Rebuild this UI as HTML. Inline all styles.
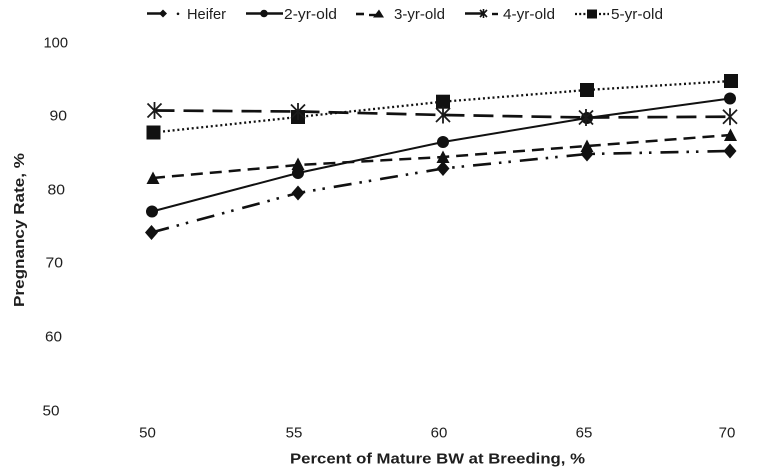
<!DOCTYPE html>
<html>
<head>
<meta charset="utf-8">
<style>
  html,body{margin:0;padding:0;background:#fff;}
  svg{display:block;}
  text{font-family:"Liberation Sans",Arial,sans-serif;fill:#1e1e1e;}
</style>
</head>
<body>
<svg width="764" height="476" viewBox="0 0 764 476" xmlns="http://www.w3.org/2000/svg">
  <rect x="0" y="0" width="764" height="476" fill="#fff"/>

  <!-- Legend -->
  <g>
    <!-- Heifer -->
    <line x1="147" y1="13.5" x2="164" y2="13.5" stroke="#111" stroke-width="2.6"/>
    <polygon points="167,13.5 163,9.5 159,13.5 163,17.5" fill="#111"/>
    <circle cx="178" cy="13.8" r="1.3" fill="#111"/>
    <text x="187" y="19" font-size="15" textLength="39" lengthAdjust="spacingAndGlyphs">Heifer</text>
    <!-- 2-yr -->
    <line x1="246" y1="13.5" x2="283" y2="13.5" stroke="#111" stroke-width="2.4"/>
    <circle cx="264" cy="13.5" r="3.8" fill="#111"/>
    <text x="284" y="19" font-size="15" textLength="53" lengthAdjust="spacingAndGlyphs">2-yr-old</text>
    <!-- 3-yr -->
    <line x1="356" y1="14" x2="364" y2="14" stroke="#111" stroke-width="2.6"/>
    <line x1="369" y1="15" x2="380" y2="15" stroke="#111" stroke-width="2.4"/>
    <polygon points="379,9.5 384,17.5 373,17.5" fill="#111"/>
    <text x="394" y="19" font-size="15" textLength="51" lengthAdjust="spacingAndGlyphs">3-yr-old</text>
    <!-- 4-yr -->
    <line x1="465" y1="13.5" x2="484" y2="13.5" stroke="#111" stroke-width="2.6"/>
    <g stroke="#111" stroke-width="1.6">
      <line x1="480" y1="10" x2="487" y2="17"/>
      <line x1="480" y1="17" x2="487" y2="10"/>
      <line x1="483.5" y1="9" x2="483.5" y2="18"/>
    </g>
    <line x1="492" y1="14" x2="498" y2="14" stroke="#111" stroke-width="2.4"/>
    <text x="503" y="19" font-size="15" textLength="52" lengthAdjust="spacingAndGlyphs">4-yr-old</text>
    <!-- 5-yr -->
    <line x1="575" y1="14" x2="587" y2="14" stroke="#111" stroke-width="2.2" stroke-dasharray="2 2.2"/>
    <rect x="587" y="9.5" width="10" height="9" fill="#111"/>
    <line x1="599" y1="14" x2="609" y2="14" stroke="#111" stroke-width="2.2" stroke-dasharray="2 2.2"/>
    <text x="611" y="19" font-size="15" textLength="52" lengthAdjust="spacingAndGlyphs">5-yr-old</text>
  </g>

  <!-- Y tick labels -->
  <g font-size="15" text-anchor="end">
    <text x="68" y="47.5" textLength="24.5" lengthAdjust="spacingAndGlyphs">100</text>
    <text x="67" y="120.5" textLength="17.5" lengthAdjust="spacingAndGlyphs">90</text>
    <text x="65" y="194.5" textLength="17.5" lengthAdjust="spacingAndGlyphs">80</text>
    <text x="63" y="267.5" textLength="17.5" lengthAdjust="spacingAndGlyphs">70</text>
    <text x="62" y="341.5" textLength="17" lengthAdjust="spacingAndGlyphs">60</text>
    <text x="59.5" y="415.5" textLength="17" lengthAdjust="spacingAndGlyphs">50</text>
  </g>

  <!-- X tick labels -->
  <g font-size="15" text-anchor="middle">
    <text x="147.5" y="437.5">50</text>
    <text x="294" y="437.5">55</text>
    <text x="439" y="437.5">60</text>
    <text x="584" y="437.5">65</text>
    <text x="727" y="437.5">70</text>
  </g>

  <!-- Axis titles -->
  <text x="290" y="463.5" font-size="15" font-weight="bold" textLength="295" lengthAdjust="spacingAndGlyphs">Percent of Mature BW at Breeding, %</text>
  <text transform="translate(24,307) rotate(-90)" x="0" y="0" font-size="15" font-weight="bold" textLength="154" lengthAdjust="spacingAndGlyphs">Pregnancy Rate, %</text>

  <!-- Series lines -->
  <!-- 5-yr dotted -->
  <polyline points="153.5,132.5 298,117 443,101.7 587,90 731,81" fill="none" stroke="#111" stroke-width="2.3" stroke-dasharray="2 2.8"/>
  <!-- 4-yr long dash -->
  <polyline points="154.5,110.5 298,111.5 443,115 586,117.5 730,116.7" fill="none" stroke="#111" stroke-width="2.7" stroke-dasharray="20 9"/>
  <!-- 3-yr dash -->
  <polyline points="153,178 298,165 443,157 587,146 730.5,135" fill="none" stroke="#111" stroke-width="2.5" stroke-dasharray="12 7"/>
  <!-- 2-yr solid -->
  <polyline points="152,211.5 298,173 443,142 587,118 730,98.5" fill="none" stroke="#111" stroke-width="2"/>
  <!-- Heifer dash-dot-dot -->
  <polyline points="151.5,232.5 298,193 443,168.5 587,154 730,151" fill="none" stroke="#111" stroke-width="2.6" stroke-dasharray="18 8 2.5 7 2.5 9"/>

  <!-- Markers: Heifer diamonds -->
  <g fill="#111">
    <polygon points="151.5,225 158,232.5 151.5,240 145,232.5"/>
    <polygon points="298,185.5 304.5,193 298,200.5 291.5,193"/>
    <polygon points="443,161 449.5,168.5 443,176 436.5,168.5"/>
    <polygon points="587,146.5 593.5,154 587,161.5 580.5,154"/>
    <polygon points="730,143.5 736.5,151 730,158.5 723.5,151"/>
  </g>
  <!-- 2-yr circles -->
  <g fill="#111">
    <circle cx="152" cy="211.5" r="6"/>
    <circle cx="298" cy="173" r="6"/>
    <circle cx="443" cy="142" r="6"/>
    <circle cx="587" cy="118" r="6"/>
    <circle cx="730" cy="98.5" r="6"/>
  </g>
  <!-- 3-yr triangles -->
  <g fill="#111">
    <polygon points="153,171.5 159.5,184 146.5,184"/>
    <polygon points="298,157.5 304.5,170 291.5,170"/>
    <polygon points="443,150.5 449.5,163 436.5,163"/>
    <polygon points="587,139.5 593.5,152 580.5,152"/>
    <polygon points="730.5,128.5 737,141 724,141"/>
  </g>
  <!-- 5-yr squares -->
  <g fill="#111">
    <rect x="146.5" y="125.5" width="14" height="14"/>
    <rect x="291" y="110" width="14" height="14"/>
    <rect x="436" y="94.7" width="14" height="14"/>
    <rect x="580" y="83" width="14" height="14"/>
    <rect x="724" y="74" width="14" height="14"/>
  </g>
  <!-- 4-yr asterisks -->
  <g stroke="#1a1a1a" stroke-width="1.8">
    <g transform="translate(154.5,110.5)"><line x1="-7" y1="-7" x2="7" y2="7"/><line x1="-7" y1="7" x2="7" y2="-7"/><line x1="0" y1="-8.5" x2="0" y2="8.5"/></g>
    <g transform="translate(298,111.5)"><line x1="-7" y1="-7" x2="7" y2="7"/><line x1="-7" y1="7" x2="7" y2="-7"/><line x1="0" y1="-8.5" x2="0" y2="8.5"/></g>
    <g transform="translate(443,115)"><line x1="-7" y1="-7" x2="7" y2="7"/><line x1="-7" y1="7" x2="7" y2="-7"/><line x1="0" y1="-8.5" x2="0" y2="8.5"/></g>
    <g transform="translate(586,117.5)"><line x1="-7" y1="-7" x2="7" y2="7"/><line x1="-7" y1="7" x2="7" y2="-7"/><line x1="0" y1="-8.5" x2="0" y2="8.5"/></g>
    <g transform="translate(730,116.7)"><line x1="-7" y1="-7" x2="7" y2="7"/><line x1="-7" y1="7" x2="7" y2="-7"/><line x1="0" y1="-8.5" x2="0" y2="8.5"/></g>
  </g>
</svg>
</body>
</html>
